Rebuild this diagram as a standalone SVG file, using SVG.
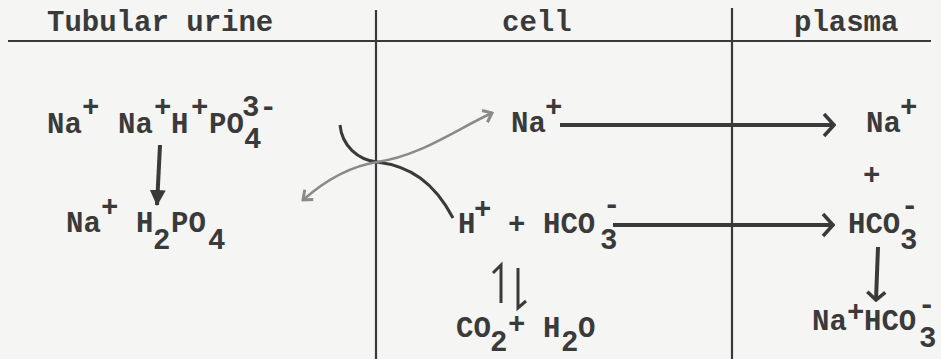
<svg xmlns="http://www.w3.org/2000/svg" width="941" height="359" viewBox="0 0 941 359">
<style>
.t{font-family:"Liberation Mono","Courier New",monospace;font-size:29px;font-weight:bold;fill:#3a3a3a}
.rule{stroke:#3a3a3a;stroke-width:2.2;fill:none}
.arr{stroke:#3a3a3a;stroke-width:4;fill:none}
.curve{stroke:#3a3a3a;stroke-width:3;fill:none}
.gcurve{stroke:#8a8a8a;stroke-width:2.5;fill:none}
</style>
<defs>
<marker id="chev" viewBox="0 0 14 26" refX="12" refY="13" markerWidth="14" markerHeight="26" markerUnits="userSpaceOnUse" orient="auto">
<path d="M2,2 L12,13 L2,24" fill="none" stroke="#3a3a3a" stroke-width="3.5"/>
</marker>
<marker id="chevs" viewBox="0 0 12 22" refX="10" refY="11" markerWidth="12" markerHeight="22" markerUnits="userSpaceOnUse" orient="auto">
<path d="M2,2 L10,11 L2,20" fill="none" stroke="#3a3a3a" stroke-width="3.5"/>
</marker>
<marker id="gchev" viewBox="0 0 12 16" refX="10" refY="8" markerWidth="12" markerHeight="16" markerUnits="userSpaceOnUse" orient="auto-start-reverse">
<path d="M2,1.5 L10,8 L2,14.5" fill="none" stroke="#8a8a8a" stroke-width="3"/>
</marker>
<marker id="tri" viewBox="0 0 16 16" refX="15" refY="8" markerWidth="16" markerHeight="16" markerUnits="userSpaceOnUse" orient="auto">
<path d="M0,0 L16,8 L0,16 Z" fill="#3a3a3a"/>
</marker>
</defs>
<rect width="941" height="359" fill="#f5f5f4"/>

<g id="frame">
<line class="rule" x1="8" y1="41" x2="931" y2="41"/>
<line class="rule" x1="376" y1="10" x2="376" y2="359"/>
<line class="rule" x1="732" y1="8" x2="732" y2="359"/>
</g>

<g id="headers">
<text class="t" x="47" y="31">Tubular urine</text>
<text class="t" x="502" y="31">cell</text>
<text class="t" x="794" y="31">plasma</text>
</g>

<g id="urine-na-na-h-po4">
<text class="t" x="47" y="133">Na</text>
<text class="t" x="82" y="116">+</text>
<text class="t" x="118" y="133">Na</text>
<text class="t" x="154" y="116">+</text>
<text class="t" x="171" y="133">H</text>
<text class="t" x="191" y="116">+</text>
<text class="t" x="209" y="133">PO</text>
<text class="t" x="244" y="148">4</text>
<text class="t" x="242" y="116">3-</text>
</g>

<g id="urine-na-h2po4">
<text class="t" x="66" y="232">Na</text>
<text class="t" x="101" y="216">+</text>
<text class="t" x="136" y="232">H</text>
<text class="t" x="153" y="249">2</text>
<text class="t" x="171" y="232">PO</text>
<text class="t" x="208" y="249">4</text>
</g>

<g id="cell-na">
<text class="t" x="511" y="132">Na</text>
<text class="t" x="545" y="116">+</text>
</g>

<g id="cell-h-hco3">
<text class="t" x="458" y="233">H</text>
<text class="t" x="474" y="218">+</text>
<text class="t" x="508" y="233">+</text>
<text class="t" x="543" y="233">HCO</text>
<text class="t" x="600" y="249">3</text>
<text class="t" x="603" y="214">-</text>
</g>

<g id="cell-co2-h2o">
<text class="t" x="456" y="337">CO</text>
<text class="t" x="490" y="351">2</text>
<text class="t" x="508" y="333">+</text>
<text class="t" x="543" y="337">H</text>
<text class="t" x="561" y="351">2</text>
<text class="t" x="578" y="337">O</text>
</g>

<g id="plasma-na">
<text class="t" x="866" y="132">Na</text>
<text class="t" x="900" y="116">+</text>
</g>

<g id="plasma-plus">
<text class="t" x="863" y="184">+</text>
</g>

<g id="plasma-hco3">
<text class="t" x="848" y="233">HCO</text>
<text class="t" x="900" y="249">3</text>
<text class="t" x="901" y="215">-</text>
</g>

<g id="plasma-na-hco3">
<text class="t" x="812" y="330">Na</text>
<text class="t" x="847" y="321">+</text>
<text class="t" x="864" y="330">HCO</text>
<text class="t" x="919" y="347">3</text>
<text class="t" x="918" y="314">-</text>
</g>

<g id="connectors">
<line class="arr" x1="160" y1="145" x2="157" y2="205" marker-end="url(#tri)"/>
<path class="curve" d="M340,125 C342,146 358,160 377,162 C410,166 434,182 453,218"/>
<path class="gcurve" d="M303,200 C328,178 352,166 377,162 C420,156 455,130 492,113" marker-start="url(#gchev)" marker-end="url(#gchev)"/>
<line class="arr" x1="560" y1="125" x2="834" y2="125" marker-end="url(#chev)"/>
<line class="arr" x1="613" y1="225" x2="833" y2="225" marker-end="url(#chev)"/>
<line class="arr" x1="878" y1="247" x2="876" y2="300" marker-end="url(#chevs)"/>
<path class="curve" d="M501,303 L501,265 L493,273"/>
<path class="curve" d="M518,268 L518,308 L526,301"/>
</g>
</svg>
